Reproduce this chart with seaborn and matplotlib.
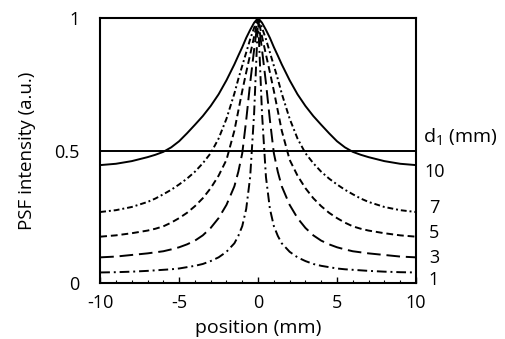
import numpy as np
import pandas as pd
import seaborn as sns
import matplotlib
matplotlib.use("Agg")
import matplotlib.pyplot as plt
from matplotlib.ticker import MultipleLocator

# position grid (mm)
position = [-10, -9, -8, -7, -6.5, -6, -5.5, -5, -4.5, -4, -3.5, -3, -2.5, -2, -1.5, -1.25, -1, -0.75, -0.5, -0.25, 0,
            0.25, 0.5, 0.75, 1, 1.25, 1.5, 2, 2.5, 3, 3.5, 4, 4.5, 5, 5.5, 6, 6.5, 7, 8, 9, 10]

# PSF intensity, one list per d1 (mm)
psf_d10 = [0.445, 0.450, 0.460, 0.475, 0.484, 0.495, 0.512, 0.535, 0.565, 0.597, 0.630, 0.668, 0.712, 0.765, 0.825, 0.858, 0.890, 0.925, 0.955, 0.982, 1.0,
           0.982, 0.955, 0.925, 0.890, 0.858, 0.825, 0.765, 0.712, 0.668, 0.630, 0.597, 0.565, 0.535, 0.512, 0.495, 0.484, 0.475, 0.460, 0.450, 0.445]
psf_d7 = [0.268, 0.275, 0.287, 0.306, 0.319, 0.335, 0.352, 0.372, 0.394, 0.420, 0.452, 0.490, 0.545, 0.620, 0.715, 0.770, 0.820, 0.870, 0.920, 0.963, 1.0,
          0.963, 0.920, 0.870, 0.820, 0.770, 0.715, 0.620, 0.545, 0.490, 0.452, 0.420, 0.394, 0.372, 0.352, 0.335, 0.319, 0.306, 0.287, 0.275, 0.268]
psf_d5 = [0.175, 0.180, 0.188, 0.198, 0.205, 0.214, 0.228, 0.245, 0.265, 0.290, 0.320, 0.358, 0.405, 0.465, 0.575, 0.650, 0.725, 0.795, 0.862, 0.930, 1.0,
          0.930, 0.862, 0.795, 0.725, 0.650, 0.575, 0.465, 0.405, 0.358, 0.320, 0.290, 0.265, 0.245, 0.228, 0.214, 0.205, 0.198, 0.188, 0.180, 0.175]
psf_d3 = [0.097, 0.100, 0.106, 0.112, 0.116, 0.120, 0.127, 0.135, 0.146, 0.160, 0.180, 0.208, 0.245, 0.295, 0.365, 0.420, 0.490, 0.615, 0.755, 0.880, 1.0,
          0.880, 0.755, 0.615, 0.490, 0.420, 0.365, 0.295, 0.245, 0.208, 0.180, 0.160, 0.146, 0.135, 0.127, 0.120, 0.116, 0.112, 0.106, 0.100, 0.097]
psf_d1 = [0.040, 0.041, 0.043, 0.046, 0.048, 0.050, 0.052, 0.055, 0.060, 0.065, 0.072, 0.083, 0.097, 0.118, 0.150, 0.178, 0.215, 0.280, 0.400, 0.640, 1.0,
          0.640, 0.400, 0.280, 0.215, 0.178, 0.150, 0.118, 0.097, 0.083, 0.072, 0.065, 0.060, 0.055, 0.052, 0.050, 0.048, 0.046, 0.043, 0.041, 0.040]

d_values = ["10", "7", "5", "3", "1"]
half_max = 0.5

sns.set_style("ticks")
plt.rcParams["font.family"] = ["Open Sans", "DejaVu Sans"]
plt.rcParams["mathtext.default"] = "regular"
plt.rcParams["axes.unicode_minus"] = False
plt.rcParams["text.color"] = "black"
plt.rcParams["axes.labelcolor"] = "black"
plt.rcParams["xtick.color"] = "black"
plt.rcParams["ytick.color"] = "black"

frames = []
for d, vals in zip(d_values, [psf_d10, psf_d7, psf_d5, psf_d3, psf_d1]):
    frames.append(pd.DataFrame({"position": position, "intensity": vals, "d": d}))
df = pd.concat(frames)

fig = plt.figure(figsize=(5.06, 3.39), dpi=100)
ax = fig.add_axes([0.198, 0.165, 0.624, 0.782])

dash_map = {"10": "", "7": (3, 1.5, 1, 1.5), "5": (3.5, 2), "3": (7, 3), "1": (5, 2, 1, 2)}
sns.lineplot(data=df, x="position", y="intensity", hue="d", style="d",
             palette={d: "black" for d in d_values}, dashes=dash_map,
             estimator=None, sort=False, legend=False, lw=1.4, ax=ax)
ax.axhline(half_max, color="black", lw=1.4)

ax.set_xlim(-10, 10)
ax.set_ylim(0, 1)
ax.set_xticks([-10, -5, 0, 5, 10])
ax.set_xticklabels(["-10", "-5", "0", "5", "10"])
ax.xaxis.set_minor_locator(MultipleLocator(1))
ax.set_yticks([0, 0.5, 1])
ax.set_yticklabels(["0", "0.5", "1"])
ax.tick_params(axis="x", which="major", direction="in", length=4, width=1, labelsize=13, pad=8)
ax.tick_params(axis="x", which="minor", direction="in", length=2.5, width=0.8)
ax.tick_params(axis="y", length=0, labelsize=13, pad=15)
for s in ax.spines.values():
    s.set_linewidth(1.5)
    s.set_color("black")

ax.set_xlabel("position (mm)", fontsize=14, labelpad=5)
ax.set_ylabel("PSF intensity (a.u.)", fontsize=13.5, labelpad=13)

# curve labels on the right
ax.text(1.022, 0.551, "d$_1$ (mm)", transform=ax.transAxes, fontsize=14, va="center", ha="left")
label_y = [0.419, 0.283, 0.189, 0.094, 0.011]
for d, yy in zip(d_values, label_y):
    ax.text(1.028 if len(d) > 1 else 1.041, yy, d, transform=ax.transAxes, fontsize=13, va="center", ha="left")

fig.savefig("out.png", dpi=100, facecolor="white")
